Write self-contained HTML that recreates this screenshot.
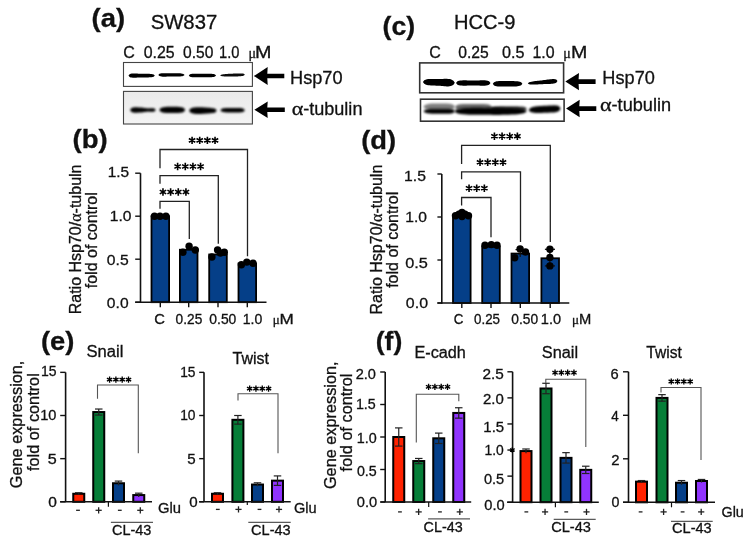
<!DOCTYPE html>
<html><head><meta charset="utf-8"><style>
html,body{margin:0;padding:0;background:#fff;}
body{width:748px;height:543px;overflow:hidden;font-family:"Liberation Sans",sans-serif;}
svg{display:block;}
#wrap{width:748px;height:543px;will-change:transform;}
text{stroke:#111;stroke-width:0.3px;}
</style></head><body>
<div id="wrap">
<svg width="748" height="543" viewBox="0 0 748 543">
<defs>
<filter id="bl0" x="-20%" y="-80%" width="140%" height="260%"><feGaussianBlur stdDeviation="0.55"/></filter>
<filter id="gblur" x="0" y="0" width="748" height="543" filterUnits="userSpaceOnUse"><feGaussianBlur stdDeviation="1.2"/></filter>
<filter id="bl1" x="-20%" y="-50%" width="140%" height="200%"><feGaussianBlur stdDeviation="0.8"/></filter>
<filter id="bl2" x="-20%" y="-50%" width="140%" height="200%"><feGaussianBlur stdDeviation="1.3"/></filter>
</defs>
<rect x="0" y="0" width="748" height="543" fill="#fff"/>
<g>
<text x="91.63" y="26.80" font-family="Liberation Sans" font-weight="bold" font-size="26.5" fill="#111" textLength="33.51" lengthAdjust="spacingAndGlyphs">(a)</text>
<text x="150.69" y="28.70" font-family="Liberation Sans" font-weight="normal" font-size="20" fill="#111" textLength="66.52" lengthAdjust="spacingAndGlyphs">SW837</text>
<text x="123.20" y="57.90" font-family="Liberation Sans" font-weight="normal" font-size="16" fill="#111">C</text>
<text x="143.70" y="57.90" font-family="Liberation Sans" font-weight="normal" font-size="16" fill="#111" textLength="30.93" lengthAdjust="spacingAndGlyphs">0.25</text>
<text x="183.12" y="57.90" font-family="Liberation Sans" font-weight="normal" font-size="16" fill="#111" textLength="30.31" lengthAdjust="spacingAndGlyphs">0.50</text>
<text x="219.00" y="57.90" font-family="Liberation Sans" font-weight="normal" font-size="16" fill="#111" textLength="20.39" lengthAdjust="spacingAndGlyphs">1.0</text>
<text x="248.50" y="57.60" font-family="Liberation Serif" font-weight="normal" font-size="14" fill="#111">μ</text>
<text x="255.00" y="57.90" font-family="Liberation Sans" font-weight="normal" font-size="16" fill="#111" textLength="16.44" lengthAdjust="spacingAndGlyphs">M</text>
<text x="382.59" y="34.50" font-family="Liberation Sans" font-weight="bold" font-size="26.5" fill="#111" textLength="32.61" lengthAdjust="spacingAndGlyphs">(c)</text>
<text x="453.99" y="28.80" font-family="Liberation Sans" font-weight="normal" font-size="20" fill="#111" textLength="61.43" lengthAdjust="spacingAndGlyphs">HCC-9</text>
<text x="429.20" y="57.90" font-family="Liberation Sans" font-weight="normal" font-size="16" fill="#111">C</text>
<text x="458.31" y="57.90" font-family="Liberation Sans" font-weight="normal" font-size="16" fill="#111" textLength="30.51" lengthAdjust="spacingAndGlyphs">0.25</text>
<text x="502.09" y="57.90" font-family="Liberation Sans" font-weight="normal" font-size="16" fill="#111" textLength="22.45" lengthAdjust="spacingAndGlyphs">0.5</text>
<text x="532.51" y="57.90" font-family="Liberation Sans" font-weight="normal" font-size="16" fill="#111" textLength="22.13" lengthAdjust="spacingAndGlyphs">1.0</text>
<text x="563.30" y="57.60" font-family="Liberation Serif" font-weight="normal" font-size="14" fill="#111">μ</text>
<text x="570.91" y="57.90" font-family="Liberation Sans" font-weight="normal" font-size="16" fill="#111" textLength="16.32" lengthAdjust="spacingAndGlyphs">M</text>
<rect x="123.5" y="62.5" width="128.9" height="23.9" fill="#fff" stroke="#444" stroke-width="1.1"/>
<path d="M128.50,75.60 L129.60,74.17 L130.69,73.78 L131.79,73.60 L132.88,73.52 L133.98,73.50 L135.07,73.52 L136.17,73.56 L137.27,73.61 L138.36,73.67 L139.46,73.70 L140.55,73.70 L141.65,73.70 L142.75,73.70 L143.84,73.70 L144.94,73.71 L146.03,73.74 L147.13,73.76 L148.23,73.80 L149.32,73.85 L150.42,73.93 L151.51,74.05 L152.61,74.25 L153.70,74.57 L154.80,75.60 L154.80,75.60 L153.70,76.63 L152.61,76.95 L151.51,77.15 L150.42,77.27 L149.32,77.35 L148.23,77.40 L147.13,77.44 L146.03,77.46 L144.94,77.49 L143.84,77.50 L142.75,77.50 L141.65,77.50 L140.55,77.50 L139.46,77.50 L138.36,77.53 L137.27,77.59 L136.17,77.64 L135.07,77.68 L133.98,77.70 L132.88,77.68 L131.79,77.60 L130.69,77.42 L129.60,77.03 L128.50,75.60Z" fill="#000" opacity="1.0" filter="url(#bl0)"/>
<path d="M158.30,74.90 L159.40,73.77 L160.49,73.44 L161.59,73.27 L162.68,73.17 L163.78,73.13 L164.88,73.13 L165.97,73.15 L167.07,73.18 L168.16,73.22 L169.26,73.24 L170.35,73.24 L171.45,73.24 L172.55,73.24 L173.64,73.24 L174.74,73.23 L175.83,73.21 L176.93,73.20 L178.03,73.20 L179.12,73.21 L180.22,73.30 L181.31,73.43 L182.41,73.63 L183.50,73.94 L184.60,74.90 L184.60,74.90 L183.50,75.86 L182.41,76.17 L181.31,76.37 L180.22,76.50 L179.12,76.59 L178.03,76.60 L176.93,76.60 L175.83,76.59 L174.74,76.57 L173.64,76.56 L172.55,76.56 L171.45,76.56 L170.35,76.56 L169.26,76.56 L168.16,76.58 L167.07,76.62 L165.97,76.65 L164.88,76.67 L163.78,76.67 L162.68,76.63 L161.59,76.53 L160.49,76.36 L159.40,76.03 L158.30,74.90Z" fill="#000" opacity="1.0" filter="url(#bl0)"/>
<path d="M188.80,75.50 L189.94,74.35 L191.08,74.03 L192.21,73.87 L193.35,73.79 L194.49,73.77 L195.62,73.75 L196.76,73.75 L197.90,73.76 L199.04,73.78 L200.18,73.78 L201.31,73.76 L202.45,73.75 L203.59,73.73 L204.72,73.71 L205.86,73.69 L207.00,73.67 L208.14,73.66 L209.28,73.66 L210.41,73.68 L211.55,73.77 L212.69,73.91 L213.82,74.12 L214.96,74.46 L216.10,75.50 L216.10,75.50 L214.96,76.54 L213.82,76.88 L212.69,77.09 L211.55,77.23 L210.41,77.32 L209.28,77.34 L208.14,77.34 L207.00,77.33 L205.86,77.31 L204.72,77.29 L203.59,77.27 L202.45,77.25 L201.31,77.24 L200.18,77.22 L199.04,77.22 L197.90,77.24 L196.76,77.25 L195.62,77.25 L194.49,77.23 L193.35,77.21 L192.21,77.13 L191.08,76.97 L189.94,76.65 L188.80,75.50Z" fill="#000" opacity="1.0" filter="url(#bl0)"/>
<path d="M220.10,75.40 L221.13,74.74 L222.17,74.49 L223.20,74.31 L224.23,74.17 L225.27,74.06 L226.30,73.98 L227.33,73.91 L228.37,73.84 L229.40,73.78 L230.43,73.72 L231.47,73.68 L232.50,73.64 L233.53,73.59 L234.57,73.55 L235.60,73.50 L236.63,73.46 L237.67,73.42 L238.70,73.39 L239.73,73.38 L240.77,73.41 L241.80,73.48 L242.83,73.61 L243.87,73.86 L244.90,74.70 L244.90,74.70 L243.87,75.60 L242.83,75.90 L241.80,76.09 L240.77,76.22 L239.73,76.31 L238.70,76.36 L237.67,76.38 L236.63,76.40 L235.60,76.42 L234.57,76.44 L233.53,76.45 L232.50,76.46 L231.47,76.48 L230.43,76.49 L229.40,76.50 L228.37,76.49 L227.33,76.49 L226.30,76.47 L225.27,76.45 L224.23,76.40 L223.20,76.32 L222.17,76.20 L221.13,76.00 L220.10,75.40Z" fill="#000" opacity="0.95" filter="url(#bl0)"/>
<defs><linearGradient id="gb2" x1="0" y1="0" x2="0" y2="1"><stop offset="0" stop-color="#e9e9e9"/><stop offset="0.6" stop-color="#f0f0f0"/><stop offset="1" stop-color="#f4f4f4"/></linearGradient></defs>
<rect x="123.5" y="91.4" width="128.9" height="32.6" fill="url(#gb2)" stroke="#444" stroke-width="1.1"/>
<path d="M130.10,110.00 L131.17,108.31 L132.24,107.77 L133.31,107.45 L134.38,107.30 L135.45,107.28 L136.53,107.31 L137.60,107.36 L138.67,107.39 L139.74,107.43 L140.81,107.47 L141.88,107.60 L142.95,107.76 L144.02,107.92 L145.09,108.08 L146.16,108.20 L147.23,108.32 L148.30,108.45 L149.38,108.35 L150.45,108.22 L151.52,108.13 L152.59,108.15 L153.66,108.33 L154.73,108.69 L155.80,110.00 L155.80,110.00 L154.73,111.31 L153.66,111.67 L152.59,111.85 L151.52,111.87 L150.45,111.78 L149.38,111.65 L148.30,111.55 L147.23,111.68 L146.16,111.80 L145.09,111.92 L144.02,112.08 L142.95,112.24 L141.88,112.40 L140.81,112.53 L139.74,112.57 L138.67,112.61 L137.60,112.64 L136.53,112.69 L135.45,112.72 L134.38,112.70 L133.31,112.55 L132.24,112.23 L131.17,111.69 L130.10,110.00Z" fill="#000" opacity="1.0" filter="url(#bl1)"/>
<path d="M159.30,109.90 L160.38,108.26 L161.46,107.72 L162.54,107.38 L163.62,107.15 L164.70,107.00 L165.78,106.91 L166.85,106.85 L167.93,106.81 L169.01,106.77 L170.09,106.75 L171.17,106.75 L172.25,106.75 L173.33,106.75 L174.41,106.75 L175.49,106.77 L176.57,106.81 L177.65,106.85 L178.72,106.91 L179.80,107.00 L180.88,107.13 L181.96,107.33 L183.04,107.65 L184.12,108.19 L185.20,109.90 L185.20,109.90 L184.12,111.61 L183.04,112.15 L181.96,112.47 L180.88,112.67 L179.80,112.80 L178.72,112.89 L177.65,112.95 L176.57,112.99 L175.49,113.03 L174.41,113.05 L173.33,113.05 L172.25,113.05 L171.17,113.05 L170.09,113.05 L169.01,113.03 L167.93,112.99 L166.85,112.95 L165.78,112.89 L164.70,112.80 L163.62,112.65 L162.54,112.42 L161.46,112.08 L160.38,111.54 L159.30,109.90Z" fill="#000" opacity="1.0" filter="url(#bl1)"/>
<path d="M189.10,110.60 L190.25,108.80 L191.40,108.20 L192.55,107.83 L193.70,107.57 L194.85,107.42 L196.00,107.32 L197.15,107.25 L198.30,107.20 L199.45,107.23 L200.60,107.27 L201.75,107.31 L202.90,107.34 L204.05,107.42 L205.20,107.50 L206.35,107.58 L207.50,107.66 L208.65,107.75 L209.80,107.85 L210.95,107.98 L212.10,108.14 L213.25,108.26 L214.40,108.50 L215.55,108.97 L216.70,110.60 L216.70,110.60 L215.55,112.23 L214.40,112.70 L213.25,112.94 L212.10,113.06 L210.95,113.22 L209.80,113.35 L208.65,113.45 L207.50,113.54 L206.35,113.62 L205.20,113.70 L204.05,113.78 L202.90,113.85 L201.75,113.89 L200.60,113.93 L199.45,113.97 L198.30,114.00 L197.15,113.95 L196.00,113.88 L194.85,113.78 L193.70,113.63 L192.55,113.37 L191.40,113.00 L190.25,112.40 L189.10,110.60Z" fill="#000" opacity="1.0" filter="url(#bl1)"/>
<path d="M220.40,110.20 L221.42,109.01 L222.44,108.61 L223.46,108.37 L224.48,108.20 L225.50,108.09 L226.53,108.02 L227.55,107.98 L228.57,107.94 L229.59,107.92 L230.61,107.90 L231.63,107.90 L232.65,107.90 L233.67,107.90 L234.69,107.90 L235.71,107.90 L236.73,107.90 L237.75,107.91 L238.78,107.94 L239.80,107.98 L240.82,108.07 L241.84,108.23 L242.86,108.47 L243.88,108.89 L244.90,110.20 L244.90,110.20 L243.88,111.51 L242.86,111.93 L241.84,112.17 L240.82,112.33 L239.80,112.42 L238.78,112.46 L237.75,112.49 L236.73,112.50 L235.71,112.50 L234.69,112.50 L233.67,112.50 L232.65,112.50 L231.63,112.50 L230.61,112.50 L229.59,112.48 L228.57,112.46 L227.55,112.42 L226.53,112.38 L225.50,112.31 L224.48,112.20 L223.46,112.03 L222.44,111.79 L221.42,111.39 L220.40,110.20Z" fill="#000" opacity="1.0" filter="url(#bl1)"/>
<rect x="419.7" y="62.9" width="143.9" height="29.9" fill="#fff" stroke="#333" stroke-width="1.6"/>
<path d="M422.90,82.00 L424.23,80.28 L425.56,79.67 L426.89,79.27 L428.22,79.06 L429.55,78.98 L430.88,78.95 L432.20,78.95 L433.53,78.97 L434.86,79.00 L436.19,79.03 L437.52,79.03 L438.85,79.02 L440.18,79.00 L441.51,78.97 L442.84,78.91 L444.17,78.86 L445.50,78.81 L446.82,78.82 L448.15,78.88 L449.48,79.00 L450.81,79.35 L452.14,79.99 L453.47,80.83 L454.80,82.80 L454.80,82.80 L453.47,84.70 L452.14,85.48 L450.81,86.05 L449.48,86.33 L448.15,86.38 L446.82,86.38 L445.50,86.32 L444.17,86.21 L442.84,86.09 L441.51,85.96 L440.18,85.86 L438.85,85.78 L437.52,85.70 L436.19,85.63 L434.86,85.60 L433.53,85.56 L432.20,85.51 L430.88,85.45 L429.55,85.35 L428.22,85.21 L426.89,84.93 L425.56,84.46 L424.23,83.79 L422.90,82.00Z" fill="#000" opacity="1.0" filter="url(#bl0)"/>
<path d="M456.00,83.00 L457.44,81.34 L458.88,80.83 L460.31,80.55 L461.75,80.39 L463.19,80.31 L464.62,80.31 L466.06,80.35 L467.50,80.39 L468.94,80.45 L470.38,80.48 L471.81,80.48 L473.25,80.48 L474.69,80.48 L476.12,80.48 L477.56,80.45 L479.00,80.39 L480.44,80.35 L481.88,80.31 L483.31,80.31 L484.75,80.37 L486.19,80.51 L487.62,80.77 L489.06,81.27 L490.50,83.00 L490.50,83.00 L489.06,84.73 L487.62,85.23 L486.19,85.49 L484.75,85.63 L483.31,85.69 L481.88,85.69 L480.44,85.65 L479.00,85.61 L477.56,85.55 L476.12,85.52 L474.69,85.52 L473.25,85.52 L471.81,85.52 L470.38,85.52 L468.94,85.55 L467.50,85.61 L466.06,85.65 L464.62,85.69 L463.19,85.69 L461.75,85.61 L460.31,85.45 L458.88,85.17 L457.44,84.66 L456.00,83.00Z" fill="#000" opacity="1.0" filter="url(#bl0)"/>
<path d="M492.80,83.80 L494.03,82.18 L495.27,81.67 L496.50,81.37 L497.73,81.18 L498.97,81.07 L500.20,81.04 L501.43,81.04 L502.67,81.06 L503.90,81.08 L505.13,81.10 L506.37,81.10 L507.60,81.10 L508.83,81.10 L510.07,81.10 L511.30,81.10 L512.53,81.11 L513.77,81.12 L515.00,81.14 L516.23,81.19 L517.47,81.31 L518.70,81.49 L519.93,81.77 L521.17,82.26 L522.40,83.80 L522.40,83.80 L521.17,85.34 L519.93,85.83 L518.70,86.11 L517.47,86.29 L516.23,86.41 L515.00,86.46 L513.77,86.48 L512.53,86.49 L511.30,86.50 L510.07,86.50 L508.83,86.50 L507.60,86.50 L506.37,86.50 L505.13,86.50 L503.90,86.52 L502.67,86.54 L501.43,86.56 L500.20,86.56 L498.97,86.53 L497.73,86.42 L496.50,86.23 L495.27,85.93 L494.03,85.42 L492.80,83.80Z" fill="#000" opacity="1.0" filter="url(#bl0)"/>
<path d="M527.80,83.40 L529.04,82.33 L530.27,81.92 L531.51,81.63 L532.75,81.41 L533.99,81.23 L535.22,81.07 L536.46,80.93 L537.70,80.80 L538.94,80.68 L540.17,80.54 L541.41,80.39 L542.65,80.25 L543.89,80.10 L545.12,79.95 L546.36,79.79 L547.60,79.62 L548.84,79.46 L550.08,79.31 L551.31,79.18 L552.55,79.10 L553.79,79.08 L555.02,79.18 L556.26,79.50 L557.50,81.00 L557.50,81.00 L556.26,82.70 L555.02,83.22 L553.79,83.52 L552.55,83.70 L551.31,83.82 L550.08,83.89 L548.84,83.94 L547.60,83.98 L546.36,84.01 L545.12,84.05 L543.89,84.10 L542.65,84.16 L541.41,84.21 L540.17,84.26 L538.94,84.32 L537.70,84.40 L536.46,84.47 L535.22,84.53 L533.99,84.57 L532.75,84.59 L531.51,84.57 L530.27,84.48 L529.04,84.27 L527.80,83.40Z" fill="#000" opacity="1.0" filter="url(#bl0)"/>
<rect x="420.5" y="99.2" width="143.6" height="22.0" fill="#fff" stroke="#333" stroke-width="1.6"/>
<path d="M423.50,106.80 L424.81,105.18 L426.12,104.58 L427.44,104.17 L428.75,103.87 L430.06,103.66 L431.38,103.60 L432.69,103.57 L434.00,103.56 L435.31,103.55 L436.62,103.55 L437.94,103.55 L439.25,103.55 L440.56,103.55 L441.88,103.55 L443.19,103.55 L444.50,103.56 L445.81,103.57 L447.12,103.60 L448.44,103.66 L449.75,103.82 L451.06,104.07 L452.38,104.43 L453.69,105.02 L455.00,106.80 L455.00,106.80 L453.69,108.58 L452.38,109.17 L451.06,109.53 L449.75,109.78 L448.44,109.94 L447.12,110.00 L445.81,110.03 L444.50,110.04 L443.19,110.05 L441.88,110.05 L440.56,110.05 L439.25,110.05 L437.94,110.05 L436.62,110.05 L435.31,110.05 L434.00,110.04 L432.69,110.03 L431.38,110.00 L430.06,109.94 L428.75,109.73 L427.44,109.43 L426.12,109.02 L424.81,108.42 L423.50,106.80Z" fill="#000" opacity="0.5" filter="url(#bl2)"/>
<path d="M423.50,111.20 L424.81,109.95 L426.12,109.49 L427.44,109.18 L428.75,108.95 L430.06,108.79 L431.38,108.74 L432.69,108.72 L434.00,108.71 L435.31,108.70 L436.62,108.70 L437.94,108.70 L439.25,108.70 L440.56,108.70 L441.88,108.70 L443.19,108.69 L444.50,108.66 L445.81,108.65 L447.12,108.65 L448.44,108.67 L449.75,108.77 L451.06,108.95 L452.38,109.23 L453.69,109.70 L455.00,111.20 L455.00,111.20 L453.69,112.70 L452.38,113.17 L451.06,113.45 L449.75,113.63 L448.44,113.73 L447.12,113.75 L445.81,113.75 L444.50,113.74 L443.19,113.71 L441.88,113.70 L440.56,113.70 L439.25,113.70 L437.94,113.70 L436.62,113.70 L435.31,113.70 L434.00,113.69 L432.69,113.68 L431.38,113.66 L430.06,113.61 L428.75,113.45 L427.44,113.22 L426.12,112.91 L424.81,112.45 L423.50,111.20Z" fill="#000" opacity="1.0" filter="url(#bl1)"/>
<path d="M455.00,107.20 L456.54,105.27 L458.08,104.69 L459.62,104.36 L461.17,104.17 L462.71,104.06 L464.25,104.00 L465.79,103.97 L467.33,103.96 L468.88,103.95 L470.42,103.95 L471.96,103.95 L473.50,103.95 L475.04,103.95 L476.58,103.95 L478.12,103.95 L479.67,103.96 L481.21,103.97 L482.75,104.00 L484.29,104.06 L485.83,104.17 L487.38,104.36 L488.92,104.69 L490.46,105.27 L492.00,107.20 L492.00,107.20 L490.46,109.13 L488.92,109.71 L487.38,110.04 L485.83,110.23 L484.29,110.34 L482.75,110.40 L481.21,110.43 L479.67,110.44 L478.12,110.45 L476.58,110.45 L475.04,110.45 L473.50,110.45 L471.96,110.45 L470.42,110.45 L468.88,110.45 L467.33,110.44 L465.79,110.43 L464.25,110.40 L462.71,110.34 L461.17,110.23 L459.62,110.04 L458.08,109.71 L456.54,109.13 L455.00,107.20Z" fill="#000" opacity="0.6" filter="url(#bl2)"/>
<path d="M454.00,111.30 L457.04,109.28 L460.08,108.67 L463.12,108.33 L466.17,108.11 L469.21,107.94 L472.25,107.83 L475.29,107.76 L478.33,107.79 L481.38,107.84 L484.42,107.89 L487.46,107.83 L490.50,107.73 L493.54,107.63 L496.58,107.59 L499.62,107.69 L502.67,107.79 L505.71,107.91 L508.75,107.95 L511.79,108.02 L514.83,108.13 L517.88,108.35 L520.92,108.73 L523.96,109.35 L527.00,111.30 L527.00,111.30 L523.96,113.25 L520.92,113.87 L517.88,114.25 L514.83,114.47 L511.79,114.58 L508.75,114.65 L505.71,114.69 L502.67,114.81 L499.62,114.91 L496.58,115.01 L493.54,114.97 L490.50,114.87 L487.46,114.77 L484.42,114.71 L481.38,114.76 L478.33,114.81 L475.29,114.84 L472.25,114.77 L469.21,114.66 L466.17,114.49 L463.12,114.27 L460.08,113.93 L457.04,113.32 L454.00,111.30Z" fill="#000" opacity="1.0" filter="url(#bl1)"/>
<path d="M490.00,108.80 L491.54,107.32 L493.08,106.87 L494.62,106.62 L496.17,106.47 L497.71,106.39 L499.25,106.34 L500.79,106.32 L502.33,106.31 L503.88,106.30 L505.42,106.30 L506.96,106.30 L508.50,106.30 L510.04,106.30 L511.58,106.30 L513.12,106.30 L514.67,106.31 L516.21,106.32 L517.75,106.34 L519.29,106.39 L520.83,106.47 L522.38,106.62 L523.92,106.87 L525.46,107.32 L527.00,108.80 L527.00,108.80 L525.46,110.28 L523.92,110.73 L522.38,110.98 L520.83,111.13 L519.29,111.21 L517.75,111.26 L516.21,111.28 L514.67,111.29 L513.12,111.30 L511.58,111.30 L510.04,111.30 L508.50,111.30 L506.96,111.30 L505.42,111.30 L503.88,111.30 L502.33,111.29 L500.79,111.28 L499.25,111.26 L497.71,111.21 L496.17,111.13 L494.62,110.98 L493.08,110.73 L491.54,110.28 L490.00,108.80Z" fill="#000" opacity="0.75" filter="url(#bl2)"/>
<path d="M528.70,110.00 L530.03,108.13 L531.36,107.47 L532.69,107.04 L534.02,106.72 L535.35,106.49 L536.68,106.33 L538.00,106.21 L539.33,106.10 L540.66,106.00 L541.99,105.92 L543.32,105.86 L544.65,105.80 L545.98,105.74 L547.31,105.68 L548.64,105.60 L549.97,105.52 L551.30,105.44 L552.62,105.38 L553.95,105.35 L555.28,105.41 L556.61,105.57 L557.94,105.87 L559.27,106.48 L560.60,108.60 L560.60,108.60 L559.27,110.84 L557.94,111.56 L556.61,111.98 L555.28,112.26 L553.95,112.43 L552.62,112.52 L551.30,112.58 L549.97,112.62 L548.64,112.65 L547.31,112.68 L545.98,112.74 L544.65,112.80 L543.32,112.86 L541.99,112.92 L540.66,112.95 L539.33,112.97 L538.00,112.98 L536.68,112.97 L535.35,112.93 L534.02,112.81 L532.69,112.61 L531.36,112.30 L530.03,111.75 L528.70,110.00Z" fill="#000" opacity="1.0" filter="url(#bl1)"/>
<polygon points="253.90,76.00 267.70,66.90 267.30,73.65 284.30,73.65 284.30,78.35 267.30,78.35 267.70,85.10" fill="#000"/>
<polygon points="254.40,109.75 267.70,101.50 267.30,107.40 284.80,107.40 284.80,112.10 267.30,112.10 267.70,118.00" fill="#000"/>
<polygon points="565.30,81.60 579.00,72.90 578.60,79.20 595.60,79.20 595.60,84.00 578.60,84.00 579.00,90.30" fill="#000"/>
<polygon points="566.10,108.60 579.70,99.85 579.30,106.25 596.30,106.25 596.30,110.95 579.30,110.95 579.70,117.35" fill="#000"/>
<text x="290.05" y="84.30" font-family="Liberation Sans" font-weight="normal" font-size="18" fill="#111" textLength="52.52" lengthAdjust="spacingAndGlyphs">Hsp70</text>
<text x="291.74" y="114.80" font-family="Liberation Serif" font-weight="normal" font-size="18" fill="#111" textLength="11.59" lengthAdjust="spacingAndGlyphs">α</text>
<text x="303.20" y="114.80" font-family="Liberation Sans" font-weight="normal" font-size="18" fill="#111" textLength="59.25" lengthAdjust="spacingAndGlyphs">-tubulin</text>
<text x="602.39" y="84.30" font-family="Liberation Sans" font-weight="normal" font-size="18" fill="#111" textLength="52.45" lengthAdjust="spacingAndGlyphs">Hsp70</text>
<text x="600.14" y="111.10" font-family="Liberation Serif" font-weight="normal" font-size="18" fill="#111" textLength="11.59" lengthAdjust="spacingAndGlyphs">α</text>
<text x="611.59" y="111.10" font-family="Liberation Sans" font-weight="normal" font-size="18" fill="#111" textLength="59.56" lengthAdjust="spacingAndGlyphs">-tubulin</text>
<text x="72.61" y="148.40" font-family="Liberation Sans" font-weight="bold" font-size="26.5" fill="#111" textLength="35.18" lengthAdjust="spacingAndGlyphs">(b)</text>
<text x="361.26" y="148.90" font-family="Liberation Sans" font-weight="bold" font-size="26.5" fill="#111" textLength="34.92" lengthAdjust="spacingAndGlyphs">(d)</text>
<text x="40.96" y="350.00" font-family="Liberation Sans" font-weight="bold" font-size="26.5" fill="#111" textLength="33.48" lengthAdjust="spacingAndGlyphs">(e)</text>
<text x="375.69" y="349.90" font-family="Liberation Sans" font-weight="bold" font-size="26.5" fill="#111" textLength="26.59" lengthAdjust="spacingAndGlyphs">(f)</text>
<line x1="140.5" y1="173.2" x2="140.5" y2="302.9" stroke="#111" stroke-width="1.6"/>
<line x1="135.2" y1="302.2" x2="140.5" y2="302.2" stroke="#111" stroke-width="1.4"/>
<line x1="135.2" y1="259.2" x2="140.5" y2="259.2" stroke="#111" stroke-width="1.4"/>
<line x1="135.2" y1="216.2" x2="140.5" y2="216.2" stroke="#111" stroke-width="1.4"/>
<line x1="135.2" y1="173.2" x2="140.5" y2="173.2" stroke="#111" stroke-width="1.4"/>
<rect x="151.50" y="216.20" width="17.60" height="86.00" fill="#053f88" stroke="#000" stroke-width="1.8"/>
<rect x="179.90" y="249.74" width="17.60" height="52.46" fill="#053f88" stroke="#000" stroke-width="1.8"/>
<rect x="209.20" y="254.47" width="17.60" height="47.73" fill="#053f88" stroke="#000" stroke-width="1.8"/>
<rect x="238.50" y="263.50" width="17.60" height="38.70" fill="#053f88" stroke="#000" stroke-width="1.8"/>
<circle cx="154.50" cy="216.30" r="3.7" fill="#000"/>
<circle cx="160.00" cy="216.30" r="3.7" fill="#000"/>
<circle cx="165.90" cy="216.30" r="3.7" fill="#000"/>
<circle cx="182.90" cy="252.30" r="3.7" fill="#000"/>
<circle cx="189.10" cy="246.30" r="3.7" fill="#000"/>
<circle cx="195.30" cy="250.00" r="3.7" fill="#000"/>
<circle cx="211.90" cy="257.00" r="3.7" fill="#000"/>
<circle cx="217.60" cy="250.00" r="3.7" fill="#000"/>
<circle cx="220.40" cy="253.00" r="3.7" fill="#000"/>
<circle cx="224.30" cy="252.30" r="3.7" fill="#000"/>
<circle cx="241.40" cy="264.70" r="3.7" fill="#000"/>
<circle cx="246.80" cy="262.10" r="3.7" fill="#000"/>
<circle cx="253.00" cy="263.20" r="3.7" fill="#000"/>
<line x1="135.2" y1="302.2" x2="266.5" y2="302.2" stroke="#111" stroke-width="1.5"/>
<line x1="160.3" y1="302.2" x2="160.3" y2="307.2" stroke="#111" stroke-width="1.4"/>
<line x1="188.7" y1="302.2" x2="188.7" y2="307.2" stroke="#111" stroke-width="1.4"/>
<line x1="218.0" y1="302.2" x2="218.0" y2="307.2" stroke="#111" stroke-width="1.4"/>
<line x1="247.3" y1="302.2" x2="247.3" y2="307.2" stroke="#111" stroke-width="1.4"/>
<text x="107.67" y="177.35" font-family="Liberation Sans" font-weight="normal" font-size="15" fill="#111" textLength="21.40" lengthAdjust="spacingAndGlyphs">1.5</text>
<text x="109.85" y="221.15" font-family="Liberation Sans" font-weight="normal" font-size="15" fill="#111" textLength="21.72" lengthAdjust="spacingAndGlyphs">1.0</text>
<text x="106.87" y="265.45" font-family="Liberation Sans" font-weight="normal" font-size="15" fill="#111" textLength="21.81" lengthAdjust="spacingAndGlyphs">0.5</text>
<text x="106.88" y="308.40" font-family="Liberation Sans" font-weight="normal" font-size="15" fill="#111" textLength="21.70" lengthAdjust="spacingAndGlyphs">0.0</text>
<text x="154.26" y="324.00" font-family="Liberation Sans" font-weight="normal" font-size="14" fill="#111" textLength="10.68" lengthAdjust="spacingAndGlyphs">C</text>
<text x="175.61" y="324.00" font-family="Liberation Sans" font-weight="normal" font-size="14" fill="#111" textLength="26.63" lengthAdjust="spacingAndGlyphs">0.25</text>
<text x="209.30" y="324.00" font-family="Liberation Sans" font-weight="normal" font-size="14" fill="#111" textLength="27.04" lengthAdjust="spacingAndGlyphs">0.50</text>
<text x="242.69" y="324.00" font-family="Liberation Sans" font-weight="normal" font-size="14" fill="#111" textLength="19.57" lengthAdjust="spacingAndGlyphs">1.0</text>
<text x="272.70" y="323.60" font-family="Liberation Serif" font-weight="normal" font-size="13" fill="#111">μ</text>
<text x="279.55" y="324.00" font-family="Liberation Sans" font-weight="normal" font-size="14" fill="#111" textLength="14.26" lengthAdjust="spacingAndGlyphs">M</text>
<text transform="translate(80.50,239.40) rotate(-90)" text-anchor="middle" font-size="16" fill="#111"><tspan font-family="Liberation Sans" font-weight="normal">Ratio Hsp70/</tspan><tspan font-family="Liberation Serif" font-weight="normal">α</tspan><tspan font-family="Liberation Sans" font-weight="normal">-tubuln</tspan></text>
<text transform="translate(97.00,240.20) rotate(-90)" text-anchor="middle" font-size="16" fill="#111"><tspan font-family="Liberation Sans" font-weight="normal">fold of control</tspan></text>
<polyline points="160.0,208.8 160.0,201.3 189.3,201.3 189.3,239.1" fill="none" stroke="#222" stroke-width="1.3"/>
<polyline points="160.0,183.7 160.0,175.6 218.3,175.6 218.3,243.8" fill="none" stroke="#222" stroke-width="1.3"/>
<polyline points="160.0,168.3 160.0,149.5 247.5,149.5 247.5,256.2" fill="none" stroke="#222" stroke-width="1.3"/>
<path d="M162.97,195.70L162.97,188.30M159.77,193.85L166.18,190.15M159.77,190.15L166.18,193.85M170.62,195.70L170.62,188.30M167.42,193.85L173.83,190.15M167.42,190.15L173.83,193.85M178.28,195.70L178.28,188.30M175.07,193.85L181.48,190.15M175.07,190.15L181.48,193.85M185.93,195.70L185.93,188.30M182.72,193.85L189.13,190.15M182.72,190.15L189.13,193.85" stroke="#000" stroke-width="1.6" fill="none"/>
<path d="M177.62,170.20L177.62,162.80M174.42,168.35L180.83,164.65M174.42,164.65L180.83,168.35M185.28,170.20L185.28,162.80M182.07,168.35L188.48,164.65M182.07,164.65L188.48,168.35M192.93,170.20L192.93,162.80M189.72,168.35L196.13,164.65M189.72,164.65L196.13,168.35M200.57,170.20L200.57,162.80M197.37,168.35L203.78,164.65M197.37,164.65L203.78,168.35" stroke="#000" stroke-width="1.6" fill="none"/>
<path d="M192.08,144.10L192.08,136.70M188.87,142.25L195.28,138.55M188.87,138.55L195.28,142.25M199.73,144.10L199.73,136.70M196.52,142.25L202.93,138.55M196.52,138.55L202.93,142.25M207.38,144.10L207.38,136.70M204.17,142.25L210.58,138.55M204.17,138.55L210.58,142.25M215.03,144.10L215.03,136.70M211.82,142.25L218.23,138.55M211.82,138.55L218.23,142.25" stroke="#000" stroke-width="1.6" fill="none"/>
<line x1="441.8" y1="174.0" x2="441.8" y2="303.7" stroke="#111" stroke-width="1.6"/>
<line x1="437.40000000000003" y1="303.0" x2="441.8" y2="303.0" stroke="#111" stroke-width="1.4"/>
<line x1="437.40000000000003" y1="260.0" x2="441.8" y2="260.0" stroke="#111" stroke-width="1.4"/>
<line x1="437.40000000000003" y1="217.0" x2="441.8" y2="217.0" stroke="#111" stroke-width="1.4"/>
<line x1="437.40000000000003" y1="174.0" x2="441.8" y2="174.0" stroke="#111" stroke-width="1.4"/>
<rect x="453.00" y="217.00" width="17.60" height="86.00" fill="#053f88" stroke="#000" stroke-width="1.8"/>
<rect x="482.20" y="246.67" width="17.60" height="56.33" fill="#053f88" stroke="#000" stroke-width="1.8"/>
<rect x="511.50" y="253.55" width="17.60" height="49.45" fill="#053f88" stroke="#000" stroke-width="1.8"/>
<rect x="541.40" y="258.28" width="17.60" height="44.72" fill="#053f88" stroke="#000" stroke-width="1.8"/>
<line x1="515.5" y1="249.6" x2="524.5" y2="249.6" stroke="#111" stroke-width="1.2"/>
<line x1="520.2" y1="249.6" x2="520.2" y2="257" stroke="#111" stroke-width="1.2"/>
<line x1="544.9" y1="249.3" x2="555.0" y2="249.3" stroke="#111" stroke-width="1.3"/>
<line x1="544.9" y1="265.9" x2="555.0" y2="265.9" stroke="#111" stroke-width="1.3"/>
<line x1="549.9" y1="249.3" x2="549.9" y2="265.9" stroke="#111" stroke-width="1.3"/>
<circle cx="455.50" cy="215.80" r="3.7" fill="#000"/>
<circle cx="459.00" cy="214.30" r="3.7" fill="#000"/>
<circle cx="462.00" cy="212.40" r="3.7" fill="#000"/>
<circle cx="465.00" cy="214.30" r="3.7" fill="#000"/>
<circle cx="468.50" cy="215.80" r="3.7" fill="#000"/>
<circle cx="462.00" cy="216.50" r="3.7" fill="#000"/>
<circle cx="485.00" cy="245.30" r="3.7" fill="#000"/>
<circle cx="491.30" cy="244.60" r="3.7" fill="#000"/>
<circle cx="497.00" cy="245.30" r="3.7" fill="#000"/>
<circle cx="520.10" cy="248.90" r="3.7" fill="#000"/>
<circle cx="525.50" cy="252.00" r="3.7" fill="#000"/>
<circle cx="514.70" cy="257.70" r="3.7" fill="#000"/>
<circle cx="549.90" cy="249.30" r="3.7" fill="#000"/>
<circle cx="549.90" cy="257.40" r="3.7" fill="#000"/>
<circle cx="549.90" cy="265.90" r="3.7" fill="#000"/>
<line x1="437.40000000000003" y1="303.0" x2="569.3" y2="303.0" stroke="#111" stroke-width="1.5"/>
<line x1="461.8" y1="303.0" x2="461.8" y2="308.0" stroke="#111" stroke-width="1.4"/>
<line x1="491.0" y1="303.0" x2="491.0" y2="308.0" stroke="#111" stroke-width="1.4"/>
<line x1="520.3" y1="303.0" x2="520.3" y2="308.0" stroke="#111" stroke-width="1.4"/>
<line x1="550.2" y1="303.0" x2="550.2" y2="308.0" stroke="#111" stroke-width="1.4"/>
<text x="404.05" y="181.10" font-family="Liberation Sans" font-weight="normal" font-size="15" fill="#111" textLength="21.83" lengthAdjust="spacingAndGlyphs">1.5</text>
<text x="405.35" y="221.85" font-family="Liberation Sans" font-weight="normal" font-size="15" fill="#111" textLength="21.72" lengthAdjust="spacingAndGlyphs">1.0</text>
<text x="405.15" y="268.10" font-family="Liberation Sans" font-weight="normal" font-size="15" fill="#111" textLength="22.66" lengthAdjust="spacingAndGlyphs">0.5</text>
<text x="405.86" y="308.20" font-family="Liberation Sans" font-weight="normal" font-size="15" fill="#111" textLength="22.12" lengthAdjust="spacingAndGlyphs">0.0</text>
<text x="453.83" y="324.00" font-family="Liberation Sans" font-weight="normal" font-size="14" fill="#111" textLength="9.66" lengthAdjust="spacingAndGlyphs">C</text>
<text x="474.02" y="324.00" font-family="Liberation Sans" font-weight="normal" font-size="14" fill="#111" textLength="26.00" lengthAdjust="spacingAndGlyphs">0.25</text>
<text x="511.26" y="324.00" font-family="Liberation Sans" font-weight="normal" font-size="14" fill="#111" textLength="26.78" lengthAdjust="spacingAndGlyphs">0.50</text>
<text x="540.86" y="324.00" font-family="Liberation Sans" font-weight="normal" font-size="14" fill="#111" textLength="20.23" lengthAdjust="spacingAndGlyphs">1.0</text>
<text x="571.90" y="323.60" font-family="Liberation Serif" font-weight="normal" font-size="13" fill="#111">μ</text>
<text x="578.94" y="324.00" font-family="Liberation Sans" font-weight="normal" font-size="14" fill="#111" textLength="12.28" lengthAdjust="spacingAndGlyphs">M</text>
<text transform="translate(381.60,239.60) rotate(-90)" text-anchor="middle" font-size="16" fill="#111"><tspan font-family="Liberation Sans" font-weight="normal">Ratio Hsp70/</tspan><tspan font-family="Liberation Serif" font-weight="normal">α</tspan><tspan font-family="Liberation Sans" font-weight="normal">-tubuln</tspan></text>
<text transform="translate(397.60,239.80) rotate(-90)" text-anchor="middle" font-size="16" fill="#111"><tspan font-family="Liberation Sans" font-weight="normal">fold of control</tspan></text>
<polyline points="461.6,205.4 461.6,197.5 491.0,197.5 491.0,237.2" fill="none" stroke="#222" stroke-width="1.3"/>
<polyline points="461.6,179.3 461.6,171.8 520.5,171.8 520.5,241.9" fill="none" stroke="#222" stroke-width="1.3"/>
<polyline points="461.6,164.1 461.6,145.4 550.3,145.4 550.3,241.9" fill="none" stroke="#222" stroke-width="1.3"/>
<path d="M469.05,191.90L469.05,184.50M465.85,190.05L472.25,186.35M465.85,186.35L472.25,190.05M476.70,191.90L476.70,184.50M473.50,190.05L479.90,186.35M473.50,186.35L479.90,190.05M484.35,191.90L484.35,184.50M481.15,190.05L487.55,186.35M481.15,186.35L487.55,190.05" stroke="#000" stroke-width="1.6" fill="none"/>
<path d="M480.02,166.00L480.02,158.60M476.82,164.15L483.23,160.45M476.82,160.45L483.23,164.15M487.67,166.00L487.67,158.60M484.47,164.15L490.88,160.45M484.47,160.45L490.88,164.15M495.32,166.00L495.32,158.60M492.12,164.15L498.53,160.45M492.12,160.45L498.53,164.15M502.97,166.00L502.97,158.60M499.77,164.15L506.18,160.45M499.77,160.45L506.18,164.15" stroke="#000" stroke-width="1.6" fill="none"/>
<path d="M494.42,139.90L494.42,132.50M491.22,138.05L497.63,134.35M491.22,134.35L497.63,138.05M502.07,139.90L502.07,132.50M498.87,138.05L505.28,134.35M498.87,134.35L505.28,138.05M509.72,139.90L509.72,132.50M506.52,138.05L512.93,134.35M506.52,134.35L512.93,138.05M517.38,139.90L517.38,132.50M514.17,138.05L520.58,134.35M514.17,134.35L520.58,138.05" stroke="#000" stroke-width="1.6" fill="none"/>
<line x1="65.6" y1="372.35" x2="65.6" y2="501.8" stroke="#111" stroke-width="1.6"/>
<line x1="60.199999999999996" y1="372.35" x2="65.6" y2="372.35" stroke="#111" stroke-width="1.4"/>
<text x="41.04" y="375.80" font-family="Liberation Sans" font-weight="normal" font-size="14.5" fill="#111" textLength="15.57" lengthAdjust="spacingAndGlyphs">15</text>
<line x1="60.199999999999996" y1="415.5" x2="65.6" y2="415.5" stroke="#111" stroke-width="1.4"/>
<text x="40.19" y="419.70" font-family="Liberation Sans" font-weight="normal" font-size="14.5" fill="#111" textLength="16.24" lengthAdjust="spacingAndGlyphs">10</text>
<line x1="60.199999999999996" y1="458.65" x2="65.6" y2="458.65" stroke="#111" stroke-width="1.4"/>
<text x="47.73" y="463.55" font-family="Liberation Sans" font-weight="normal" font-size="14.5" fill="#111" textLength="8.99" lengthAdjust="spacingAndGlyphs">5</text>
<line x1="60.199999999999996" y1="501.8" x2="65.6" y2="501.8" stroke="#111" stroke-width="1.4"/>
<text x="48.36" y="506.55" font-family="Liberation Sans" font-weight="normal" font-size="14.5" fill="#111" textLength="8.64" lengthAdjust="spacingAndGlyphs">0</text>
<rect x="73.25" y="493.77" width="11.00" height="8.03" fill="#ff2200" stroke="#000" stroke-width="2.0"/>
<line x1="78.75" y1="492.7385" x2="78.75" y2="494.8097" stroke="#222" stroke-width="1.2"/>
<line x1="75.0" y1="492.7385" x2="82.5" y2="492.7385" stroke="#222" stroke-width="1.2"/>
<rect x="93.25" y="412.05" width="11.00" height="89.75" fill="#067e38" stroke="#000" stroke-width="2.0"/>
<line x1="98.75" y1="409.02750000000003" x2="98.75" y2="415.0685" stroke="#222" stroke-width="1.2"/>
<line x1="95.0" y1="409.02750000000003" x2="102.5" y2="409.02750000000003" stroke="#222" stroke-width="1.2"/>
<line x1="95.0" y1="415.0685" x2="102.5" y2="415.0685" stroke="#222" stroke-width="1.2"/>
<rect x="113.00" y="483.25" width="11.00" height="18.55" fill="#053f88" stroke="#000" stroke-width="2.0"/>
<line x1="118.5" y1="481.088" x2="118.5" y2="485.403" stroke="#222" stroke-width="1.2"/>
<line x1="114.75" y1="481.088" x2="122.25" y2="481.088" stroke="#222" stroke-width="1.2"/>
<rect x="133.25" y="495.07" width="11.00" height="6.73" fill="#9034fe" stroke="#000" stroke-width="2.0"/>
<line x1="138.75" y1="493.17" x2="138.75" y2="496.9672" stroke="#222" stroke-width="1.2"/>
<line x1="135.0" y1="493.17" x2="142.5" y2="493.17" stroke="#222" stroke-width="1.2"/>
<line x1="60.1" y1="501.8" x2="152.0" y2="501.8" stroke="#111" stroke-width="1.6"/>
<line x1="108.4" y1="501.8" x2="108.4" y2="506.8" stroke="#111" stroke-width="1.2"/>
<line x1="76.1" y1="510.3" x2="79.9" y2="510.3" stroke="#222" stroke-width="1.3"/>
<line x1="95.55" y1="510.3" x2="101.75" y2="510.3" stroke="#222" stroke-width="1.3"/>
<line x1="98.65" y1="507.2" x2="98.65" y2="513.4" stroke="#222" stroke-width="1.3"/>
<line x1="117.9" y1="510.3" x2="121.7" y2="510.3" stroke="#222" stroke-width="1.3"/>
<line x1="137.2" y1="510.3" x2="143.4" y2="510.3" stroke="#222" stroke-width="1.3"/>
<line x1="140.3" y1="507.2" x2="140.3" y2="513.4" stroke="#222" stroke-width="1.3"/>
<line x1="110.9" y1="522.3" x2="153.0" y2="522.3" stroke="#5a5a5a" stroke-width="1.3"/>
<text x="112.00" y="535.30" font-family="Liberation Sans" font-weight="normal" font-size="14.5" fill="#111" textLength="39.39" lengthAdjust="spacingAndGlyphs">CL-43</text>
<text x="86.48" y="357.10" font-family="Liberation Sans" font-weight="normal" font-size="16" fill="#111" textLength="36.84" lengthAdjust="spacingAndGlyphs">Snail</text>
<polyline points="97.5,398.8 97.5,385.0 138.3,385.0 138.3,453.3" fill="none" stroke="#555" stroke-width="1.1"/>
<path d="M109.60,382.70L109.60,376.50M106.92,381.15L112.28,378.05M106.92,378.05L112.28,381.15M115.90,382.70L115.90,376.50M113.22,381.15L118.58,378.05M113.22,378.05L118.58,381.15M122.20,382.70L122.20,376.50M119.52,381.15L124.88,378.05M119.52,378.05L124.88,381.15M128.50,382.70L128.50,376.50M125.82,381.15L131.18,378.05M125.82,378.05L131.18,381.15" stroke="#000" stroke-width="1.35" fill="none"/>
<text x="157.91" y="513.20" font-family="Liberation Sans" font-weight="normal" font-size="15" fill="#111" textLength="23.01" lengthAdjust="spacingAndGlyphs">Glu</text>
<line x1="204.0" y1="372.35" x2="204.0" y2="501.8" stroke="#111" stroke-width="1.6"/>
<line x1="199.2" y1="372.35" x2="204.0" y2="372.35" stroke="#111" stroke-width="1.4"/>
<text x="180.15" y="376.75" font-family="Liberation Sans" font-weight="normal" font-size="14.5" fill="#111" textLength="15.35" lengthAdjust="spacingAndGlyphs">15</text>
<line x1="199.2" y1="415.5" x2="204.0" y2="415.5" stroke="#111" stroke-width="1.4"/>
<text x="180.15" y="419.60" font-family="Liberation Sans" font-weight="normal" font-size="14.5" fill="#111" textLength="15.35" lengthAdjust="spacingAndGlyphs">10</text>
<line x1="199.2" y1="458.65" x2="204.0" y2="458.65" stroke="#111" stroke-width="1.4"/>
<text x="187.17" y="463.75" font-family="Liberation Sans" font-weight="normal" font-size="14.5" fill="#111" textLength="8.41" lengthAdjust="spacingAndGlyphs">5</text>
<line x1="199.2" y1="501.8" x2="204.0" y2="501.8" stroke="#111" stroke-width="1.4"/>
<text x="189.37" y="507.00" font-family="Liberation Sans" font-weight="normal" font-size="14.5" fill="#111" textLength="8.41" lengthAdjust="spacingAndGlyphs">0</text>
<rect x="212.00" y="493.77" width="11.00" height="8.03" fill="#ff2200" stroke="#000" stroke-width="2.0"/>
<line x1="217.5" y1="492.7385" x2="217.5" y2="494.8097" stroke="#222" stroke-width="1.2"/>
<line x1="213.75" y1="492.7385" x2="221.25" y2="492.7385" stroke="#222" stroke-width="1.2"/>
<rect x="232.40" y="419.81" width="11.00" height="81.99" fill="#067e38" stroke="#000" stroke-width="2.0"/>
<line x1="237.9" y1="415.5" x2="237.9" y2="424.13" stroke="#222" stroke-width="1.2"/>
<line x1="234.15" y1="415.5" x2="241.65" y2="415.5" stroke="#222" stroke-width="1.2"/>
<line x1="234.15" y1="424.13" x2="241.65" y2="424.13" stroke="#222" stroke-width="1.2"/>
<rect x="252.00" y="484.54" width="11.00" height="17.26" fill="#053f88" stroke="#000" stroke-width="2.0"/>
<line x1="257.5" y1="482.814" x2="257.5" y2="486.266" stroke="#222" stroke-width="1.2"/>
<line x1="253.75" y1="482.814" x2="261.25" y2="482.814" stroke="#222" stroke-width="1.2"/>
<rect x="272.00" y="480.66" width="11.00" height="21.14" fill="#9034fe" stroke="#000" stroke-width="2.0"/>
<line x1="277.5" y1="475.91" x2="277.5" y2="485.403" stroke="#222" stroke-width="1.2"/>
<line x1="273.75" y1="475.91" x2="281.25" y2="475.91" stroke="#222" stroke-width="1.2"/>
<line x1="273.75" y1="485.403" x2="281.25" y2="485.403" stroke="#222" stroke-width="1.2"/>
<line x1="199.2" y1="501.8" x2="290.7" y2="501.8" stroke="#111" stroke-width="1.6"/>
<line x1="247.3" y1="501.8" x2="247.3" y2="505.0" stroke="#111" stroke-width="1.2"/>
<line x1="215.9" y1="509.4" x2="219.7" y2="509.4" stroke="#222" stroke-width="1.3"/>
<line x1="235.4" y1="509.4" x2="241.6" y2="509.4" stroke="#222" stroke-width="1.3"/>
<line x1="238.5" y1="506.3" x2="238.5" y2="512.5" stroke="#222" stroke-width="1.3"/>
<line x1="257.6" y1="509.4" x2="261.4" y2="509.4" stroke="#222" stroke-width="1.3"/>
<line x1="275.9" y1="509.4" x2="282.1" y2="509.4" stroke="#222" stroke-width="1.3"/>
<line x1="279.0" y1="506.3" x2="279.0" y2="512.5" stroke="#222" stroke-width="1.3"/>
<line x1="248.3" y1="522.3" x2="290.7" y2="522.3" stroke="#5a5a5a" stroke-width="1.3"/>
<text x="251.10" y="534.60" font-family="Liberation Sans" font-weight="normal" font-size="14.5" fill="#111" textLength="39.59" lengthAdjust="spacingAndGlyphs">CL-43</text>
<text x="232.60" y="363.70" font-family="Liberation Sans" font-weight="normal" font-size="16" fill="#111" textLength="36.45" lengthAdjust="spacingAndGlyphs">Twist</text>
<polyline points="238.0,400.5 238.0,393.8 278.0,393.8 278.0,453.3" fill="none" stroke="#555" stroke-width="1.1"/>
<path d="M249.65,391.70L249.65,385.50M246.97,390.15L252.33,387.05M246.97,387.05L252.33,390.15M255.95,391.70L255.95,385.50M253.27,390.15L258.63,387.05M253.27,387.05L258.63,390.15M262.25,391.70L262.25,385.50M259.57,390.15L264.93,387.05M259.57,387.05L264.93,390.15M268.55,391.70L268.55,385.50M265.87,390.15L271.23,387.05M265.87,387.05L271.23,390.15" stroke="#000" stroke-width="1.35" fill="none"/>
<text x="293.92" y="512.70" font-family="Liberation Sans" font-weight="normal" font-size="15" fill="#111" textLength="22.69" lengthAdjust="spacingAndGlyphs">Glu</text>
<line x1="385.2" y1="372.0" x2="385.2" y2="502.0" stroke="#111" stroke-width="1.6"/>
<line x1="380.2" y1="372.0" x2="385.2" y2="372.0" stroke="#111" stroke-width="1.4"/>
<text x="355.70" y="378.75" font-family="Liberation Sans" font-weight="normal" font-size="14.5" fill="#111" textLength="20.27" lengthAdjust="spacingAndGlyphs">2.0</text>
<line x1="380.2" y1="404.5" x2="385.2" y2="404.5" stroke="#111" stroke-width="1.4"/>
<text x="355.92" y="409.25" font-family="Liberation Sans" font-weight="normal" font-size="14.5" fill="#111" textLength="19.83" lengthAdjust="spacingAndGlyphs">1.5</text>
<line x1="380.2" y1="437.0" x2="385.2" y2="437.0" stroke="#111" stroke-width="1.4"/>
<text x="356.81" y="442.80" font-family="Liberation Sans" font-weight="normal" font-size="14.5" fill="#111" textLength="19.94" lengthAdjust="spacingAndGlyphs">1.0</text>
<line x1="380.2" y1="469.5" x2="385.2" y2="469.5" stroke="#111" stroke-width="1.4"/>
<text x="356.91" y="475.60" font-family="Liberation Sans" font-weight="normal" font-size="14.5" fill="#111" textLength="19.84" lengthAdjust="spacingAndGlyphs">0.5</text>
<line x1="380.2" y1="502.0" x2="385.2" y2="502.0" stroke="#111" stroke-width="1.4"/>
<text x="356.89" y="506.75" font-family="Liberation Sans" font-weight="normal" font-size="14.5" fill="#111" textLength="20.37" lengthAdjust="spacingAndGlyphs">0.0</text>
<rect x="393.25" y="437.00" width="11.00" height="65.00" fill="#ff2200" stroke="#000" stroke-width="2.0"/>
<line x1="398.75" y1="427.9" x2="398.75" y2="446.1" stroke="#222" stroke-width="1.2"/>
<line x1="395.0" y1="427.9" x2="402.5" y2="427.9" stroke="#222" stroke-width="1.2"/>
<line x1="395.0" y1="446.1" x2="402.5" y2="446.1" stroke="#222" stroke-width="1.2"/>
<rect x="413.25" y="461.05" width="11.00" height="40.95" fill="#067e38" stroke="#000" stroke-width="2.0"/>
<line x1="418.75" y1="458.45" x2="418.75" y2="463.65" stroke="#222" stroke-width="1.2"/>
<line x1="415.0" y1="458.45" x2="422.5" y2="458.45" stroke="#222" stroke-width="1.2"/>
<line x1="415.0" y1="463.65" x2="422.5" y2="463.65" stroke="#222" stroke-width="1.2"/>
<rect x="433.25" y="438.30" width="11.00" height="63.70" fill="#053f88" stroke="#000" stroke-width="2.0"/>
<line x1="438.75" y1="433.1" x2="438.75" y2="443.5" stroke="#222" stroke-width="1.2"/>
<line x1="435.0" y1="433.1" x2="442.5" y2="433.1" stroke="#222" stroke-width="1.2"/>
<line x1="435.0" y1="443.5" x2="442.5" y2="443.5" stroke="#222" stroke-width="1.2"/>
<rect x="453.25" y="412.95" width="11.00" height="89.05" fill="#9034fe" stroke="#000" stroke-width="2.0"/>
<line x1="458.75" y1="407.75" x2="458.75" y2="418.15" stroke="#222" stroke-width="1.2"/>
<line x1="455.0" y1="407.75" x2="462.5" y2="407.75" stroke="#222" stroke-width="1.2"/>
<line x1="455.0" y1="418.15" x2="462.5" y2="418.15" stroke="#222" stroke-width="1.2"/>
<line x1="380.4" y1="502.0" x2="471.2" y2="502.0" stroke="#111" stroke-width="1.6"/>
<line x1="428.7" y1="502.0" x2="428.7" y2="507.0" stroke="#111" stroke-width="1.2"/>
<line x1="398.05" y1="511.9" x2="401.85" y2="511.9" stroke="#222" stroke-width="1.3"/>
<line x1="415.55" y1="511.9" x2="421.75" y2="511.9" stroke="#222" stroke-width="1.3"/>
<line x1="418.65" y1="508.8" x2="418.65" y2="515.0" stroke="#222" stroke-width="1.3"/>
<line x1="438.05" y1="511.9" x2="441.85" y2="511.9" stroke="#222" stroke-width="1.3"/>
<line x1="456.7" y1="511.9" x2="462.9" y2="511.9" stroke="#222" stroke-width="1.3"/>
<line x1="459.8" y1="508.8" x2="459.8" y2="515.0" stroke="#222" stroke-width="1.3"/>
<line x1="428.1" y1="518.8" x2="470.0" y2="518.8" stroke="#5a5a5a" stroke-width="1.3"/>
<text x="423.61" y="532.40" font-family="Liberation Sans" font-weight="normal" font-size="14.5" fill="#111" textLength="39.08" lengthAdjust="spacingAndGlyphs">CL-43</text>
<text x="414.48" y="357.70" font-family="Liberation Sans" font-weight="normal" font-size="16" fill="#111" textLength="51.43" lengthAdjust="spacingAndGlyphs">E-cadh</text>
<polyline points="416.3,442.5 416.3,394.3 458.8,394.3 458.8,401.3" fill="none" stroke="#555" stroke-width="1.1"/>
<path d="M428.60,389.90L428.60,383.70M425.92,388.35L431.28,385.25M425.92,385.25L431.28,388.35M434.90,389.90L434.90,383.70M432.22,388.35L437.58,385.25M432.22,385.25L437.58,388.35M441.20,389.90L441.20,383.70M438.52,388.35L443.88,385.25M438.52,385.25L443.88,388.35M447.50,389.90L447.50,383.70M444.82,388.35L450.18,385.25M444.82,385.25L450.18,388.35" stroke="#000" stroke-width="1.35" fill="none"/>
<line x1="512.6" y1="371.8" x2="512.6" y2="502.2" stroke="#111" stroke-width="1.6"/>
<line x1="507.40000000000003" y1="371.8" x2="512.6" y2="371.8" stroke="#111" stroke-width="1.4"/>
<text x="482.46" y="378.50" font-family="Liberation Sans" font-weight="normal" font-size="14.5" fill="#111" textLength="21.33" lengthAdjust="spacingAndGlyphs">2.5</text>
<line x1="507.40000000000003" y1="397.88" x2="512.6" y2="397.88" stroke="#111" stroke-width="1.4"/>
<text x="482.98" y="403.75" font-family="Liberation Sans" font-weight="normal" font-size="14.5" fill="#111" textLength="20.80" lengthAdjust="spacingAndGlyphs">2.0</text>
<line x1="507.40000000000003" y1="423.96" x2="512.6" y2="423.96" stroke="#111" stroke-width="1.4"/>
<text x="483.36" y="431.55" font-family="Liberation Sans" font-weight="normal" font-size="14.5" fill="#111" textLength="20.81" lengthAdjust="spacingAndGlyphs">1.5</text>
<line x1="507.40000000000003" y1="450.03999999999996" x2="512.6" y2="450.03999999999996" stroke="#111" stroke-width="1.4"/>
<text x="484.45" y="455.40" font-family="Liberation Sans" font-weight="normal" font-size="14.5" fill="#111" textLength="19.29" lengthAdjust="spacingAndGlyphs">1.0</text>
<line x1="507.40000000000003" y1="476.12" x2="512.6" y2="476.12" stroke="#111" stroke-width="1.4"/>
<text x="483.90" y="484.20" font-family="Liberation Sans" font-weight="normal" font-size="14.5" fill="#111" textLength="20.27" lengthAdjust="spacingAndGlyphs">0.5</text>
<line x1="507.40000000000003" y1="502.2" x2="512.6" y2="502.2" stroke="#111" stroke-width="1.4"/>
<text x="484.39" y="510.00" font-family="Liberation Sans" font-weight="normal" font-size="14.5" fill="#111" textLength="20.37" lengthAdjust="spacingAndGlyphs">0.0</text>
<rect x="520.50" y="451.08" width="11.00" height="51.12" fill="#ff2200" stroke="#000" stroke-width="2.0"/>
<line x1="526.0" y1="448.9968" x2="526.0" y2="453.1696" stroke="#222" stroke-width="1.2"/>
<line x1="522.25" y1="448.9968" x2="529.75" y2="448.9968" stroke="#222" stroke-width="1.2"/>
<rect x="540.50" y="388.49" width="11.00" height="113.71" fill="#067e38" stroke="#000" stroke-width="2.0"/>
<line x1="546.0" y1="383.2752" x2="546.0" y2="393.7072" stroke="#222" stroke-width="1.2"/>
<line x1="542.25" y1="383.2752" x2="549.75" y2="383.2752" stroke="#222" stroke-width="1.2"/>
<line x1="542.25" y1="393.7072" x2="549.75" y2="393.7072" stroke="#222" stroke-width="1.2"/>
<rect x="560.50" y="457.86" width="11.00" height="44.34" fill="#053f88" stroke="#000" stroke-width="2.0"/>
<line x1="566.0" y1="452.648" x2="566.0" y2="463.08" stroke="#222" stroke-width="1.2"/>
<line x1="562.25" y1="452.648" x2="569.75" y2="452.648" stroke="#222" stroke-width="1.2"/>
<line x1="562.25" y1="463.08" x2="569.75" y2="463.08" stroke="#222" stroke-width="1.2"/>
<rect x="580.25" y="469.86" width="11.00" height="32.34" fill="#9034fe" stroke="#000" stroke-width="2.0"/>
<line x1="585.75" y1="466.2096" x2="585.75" y2="473.512" stroke="#222" stroke-width="1.2"/>
<line x1="582.0" y1="466.2096" x2="589.5" y2="466.2096" stroke="#222" stroke-width="1.2"/>
<line x1="582.0" y1="473.512" x2="589.5" y2="473.512" stroke="#222" stroke-width="1.2"/>
<line x1="507.1" y1="502.2" x2="598.8" y2="502.2" stroke="#111" stroke-width="1.6"/>
<line x1="555.4" y1="502.2" x2="555.4" y2="507.2" stroke="#111" stroke-width="1.2"/>
<line x1="524.45" y1="511.9" x2="528.25" y2="511.9" stroke="#222" stroke-width="1.3"/>
<line x1="541.95" y1="511.9" x2="548.15" y2="511.9" stroke="#222" stroke-width="1.3"/>
<line x1="545.05" y1="508.8" x2="545.05" y2="515.0" stroke="#222" stroke-width="1.3"/>
<line x1="564.35" y1="511.9" x2="568.15" y2="511.9" stroke="#222" stroke-width="1.3"/>
<line x1="583.4" y1="511.9" x2="589.6" y2="511.9" stroke="#222" stroke-width="1.3"/>
<line x1="586.5" y1="508.8" x2="586.5" y2="515.0" stroke="#222" stroke-width="1.3"/>
<line x1="553.7" y1="519.3" x2="595.7" y2="519.3" stroke="#5a5a5a" stroke-width="1.3"/>
<text x="551.20" y="532.40" font-family="Liberation Sans" font-weight="normal" font-size="14.5" fill="#111" textLength="39.70" lengthAdjust="spacingAndGlyphs">CL-43</text>
<text x="541.79" y="358.20" font-family="Liberation Sans" font-weight="normal" font-size="16" fill="#111" textLength="36.32" lengthAdjust="spacingAndGlyphs">Snail</text>
<polyline points="545.8,383.0 545.8,379.3 585.8,379.3 585.8,447.0" fill="none" stroke="#555" stroke-width="1.1"/>
<path d="M555.05,375.80L555.05,369.60M552.37,374.25L557.73,371.15M552.37,371.15L557.73,374.25M561.35,375.80L561.35,369.60M558.67,374.25L564.03,371.15M558.67,371.15L564.03,374.25M567.65,375.80L567.65,369.60M564.97,374.25L570.33,371.15M564.97,371.15L570.33,374.25M573.95,375.80L573.95,369.60M571.27,374.25L576.63,371.15M571.27,371.15L576.63,374.25" stroke="#000" stroke-width="1.35" fill="none"/>
<line x1="628.5" y1="371.8" x2="628.5" y2="502.3" stroke="#111" stroke-width="1.6"/>
<line x1="623.0" y1="371.8" x2="628.5" y2="371.8" stroke="#111" stroke-width="1.4"/>
<text x="610.49" y="378.50" font-family="Liberation Sans" font-weight="normal" font-size="14.5" fill="#111" textLength="8.18" lengthAdjust="spacingAndGlyphs">6</text>
<line x1="623.0" y1="415.3" x2="628.5" y2="415.3" stroke="#111" stroke-width="1.4"/>
<text x="611.32" y="420.90" font-family="Liberation Sans" font-weight="normal" font-size="14.5" fill="#111" textLength="7.51" lengthAdjust="spacingAndGlyphs">4</text>
<line x1="623.0" y1="458.8" x2="628.5" y2="458.8" stroke="#111" stroke-width="1.4"/>
<text x="611.28" y="465.05" font-family="Liberation Sans" font-weight="normal" font-size="14.5" fill="#111" textLength="8.30" lengthAdjust="spacingAndGlyphs">2</text>
<line x1="623.0" y1="502.3" x2="628.5" y2="502.3" stroke="#111" stroke-width="1.4"/>
<text x="611.41" y="507.10" font-family="Liberation Sans" font-weight="normal" font-size="14.5" fill="#111" textLength="7.94" lengthAdjust="spacingAndGlyphs">0</text>
<rect x="636.00" y="481.64" width="11.00" height="20.66" fill="#ff2200" stroke="#000" stroke-width="2.0"/>
<line x1="641.5" y1="480.55" x2="641.5" y2="482.725" stroke="#222" stroke-width="1.2"/>
<line x1="637.75" y1="480.55" x2="645.25" y2="480.55" stroke="#222" stroke-width="1.2"/>
<rect x="656.50" y="397.90" width="11.00" height="104.40" fill="#067e38" stroke="#000" stroke-width="2.0"/>
<line x1="662.0" y1="394.6375" x2="662.0" y2="401.1625" stroke="#222" stroke-width="1.2"/>
<line x1="658.25" y1="394.6375" x2="665.75" y2="394.6375" stroke="#222" stroke-width="1.2"/>
<line x1="658.25" y1="401.1625" x2="665.75" y2="401.1625" stroke="#222" stroke-width="1.2"/>
<rect x="676.00" y="482.73" width="11.00" height="19.57" fill="#053f88" stroke="#000" stroke-width="2.0"/>
<line x1="681.5" y1="480.55" x2="681.5" y2="484.90000000000003" stroke="#222" stroke-width="1.2"/>
<line x1="677.75" y1="480.55" x2="685.25" y2="480.55" stroke="#222" stroke-width="1.2"/>
<rect x="696.00" y="480.99" width="11.00" height="21.31" fill="#9034fe" stroke="#000" stroke-width="2.0"/>
<line x1="701.5" y1="479.46250000000003" x2="701.5" y2="482.5075" stroke="#222" stroke-width="1.2"/>
<line x1="697.75" y1="479.46250000000003" x2="705.25" y2="479.46250000000003" stroke="#222" stroke-width="1.2"/>
<line x1="623.0" y1="502.3" x2="715.0" y2="502.3" stroke="#111" stroke-width="1.6"/>
<line x1="671.5" y1="502.3" x2="671.5" y2="507.3" stroke="#111" stroke-width="1.2"/>
<line x1="638.7" y1="511.9" x2="642.5" y2="511.9" stroke="#222" stroke-width="1.3"/>
<line x1="660.5" y1="511.9" x2="666.7" y2="511.9" stroke="#222" stroke-width="1.3"/>
<line x1="663.6" y1="508.8" x2="663.6" y2="515.0" stroke="#222" stroke-width="1.3"/>
<line x1="680.7" y1="511.9" x2="684.5" y2="511.9" stroke="#222" stroke-width="1.3"/>
<line x1="698.1" y1="511.9" x2="704.3" y2="511.9" stroke="#222" stroke-width="1.3"/>
<line x1="701.2" y1="508.8" x2="701.2" y2="515.0" stroke="#222" stroke-width="1.3"/>
<line x1="671.0" y1="521.4" x2="712.7" y2="521.4" stroke="#5a5a5a" stroke-width="1.3"/>
<text x="672.00" y="532.90" font-family="Liberation Sans" font-weight="normal" font-size="14.5" fill="#111" textLength="39.70" lengthAdjust="spacingAndGlyphs">CL-43</text>
<text x="646.36" y="358.20" font-family="Liberation Sans" font-weight="normal" font-size="16" fill="#111" textLength="35.54" lengthAdjust="spacingAndGlyphs">Twist</text>
<polyline points="661.0,392.5 661.0,387.5 701.0,387.5 701.0,460.0" fill="none" stroke="#555" stroke-width="1.1"/>
<path d="M671.25,384.60L671.25,378.40M668.57,383.05L673.93,379.95M668.57,379.95L673.93,383.05M677.55,384.60L677.55,378.40M674.87,383.05L680.23,379.95M674.87,379.95L680.23,383.05M683.85,384.60L683.85,378.40M681.17,383.05L686.53,379.95M681.17,379.95L686.53,383.05M690.15,384.60L690.15,378.40M687.47,383.05L692.83,379.95M687.47,379.95L692.83,383.05" stroke="#000" stroke-width="1.35" fill="none"/>
<text x="721.54" y="517.20" font-family="Liberation Sans" font-weight="normal" font-size="15" fill="#111" textLength="22.25" lengthAdjust="spacingAndGlyphs">Glu</text>
<path d="M512.30,452.70L512.30,447.30M509.96,451.35L514.64,448.65M509.96,448.65L514.64,451.35" stroke="#000" stroke-width="1.3" fill="none"/>
<text transform="translate(22.20,424.40) rotate(-90)" text-anchor="middle" font-size="16.3" fill="#111"><tspan font-family="Liberation Sans" font-weight="normal">Gene expression,</tspan></text>
<text transform="translate(38.70,422.10) rotate(-90)" text-anchor="middle" font-size="16.3" fill="#111"><tspan font-family="Liberation Sans" font-weight="normal">fold of control</tspan></text>
<text transform="translate(335.90,425.25) rotate(-90)" text-anchor="middle" font-size="16.3" fill="#111"><tspan font-family="Liberation Sans" font-weight="normal">Gene expression,</tspan></text>
<text transform="translate(351.90,422.50) rotate(-90)" text-anchor="middle" font-size="16.3" fill="#111"><tspan font-family="Liberation Sans" font-weight="normal">fold of control</tspan></text>
</g>
</svg>
</div>
</body></html>
